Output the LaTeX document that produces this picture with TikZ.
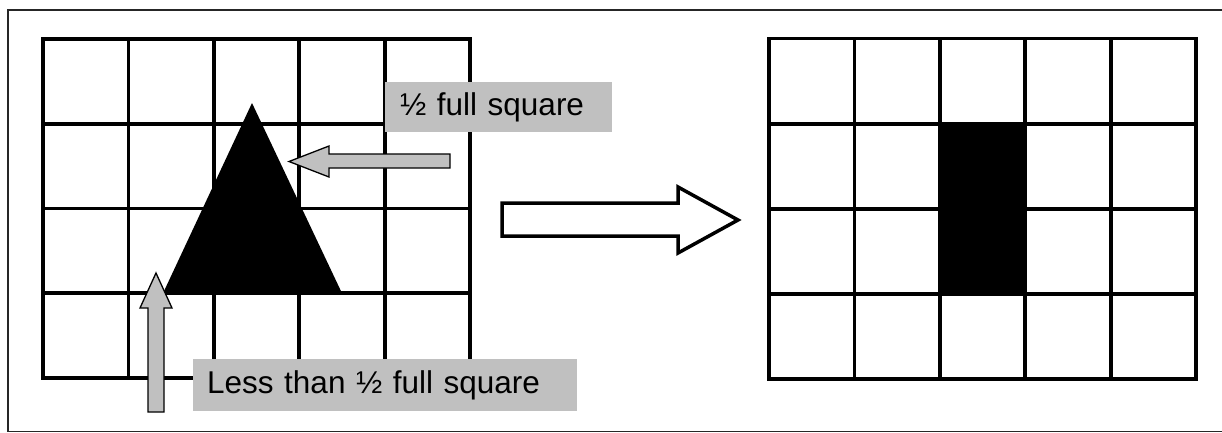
\documentclass[tikz,border=0pt]{standalone}
\usepackage{fontspec}
\setmainfont{Liberation Sans}
\definecolor{labelgray}{RGB}{192,192,192}
\begin{document}
\begin{tikzpicture}[x=1pt,y=-1pt,
  gridline/.style={line width=3.8pt, line cap=rect},
  pointer/.style={fill=labelgray, draw=black, line width=1.3pt, line join=miter},
  labelbox/.style={fill=labelgray, anchor=north west, align=left, inner ysep=0pt,
    font=\fontsize{31.5pt}{38pt}\selectfont},
  bigarrow/.style={fill=white, draw=black, line width=3.5pt, line join=miter}]
\useasboundingbox (0,0) rectangle (1222,432);
% outer frame (right side runs off the page)
\draw[line width=1.6pt, black!85] (8,10) rectangle (1240,431.5);

% left grid: 5 columns x 4 rows
\foreach \x in {43,128.4,213.8,299.2,384.6,470}
  \draw[gridline] (\x,39) -- (\x,378);
\foreach \y in {39,123.75,208.5,293.25,378}
  \draw[gridline] (43,\y) -- (470,\y);

% triangle over the grid
\fill[black] (163,293.25) -- (342,293.25) -- (252,103) -- cycle;

% right grid: 5 columns x 4 rows
\foreach \x in {769,854.4,939.8,1025.2,1110.6,1196}
  \draw[gridline] (\x,38.5) -- (\x,379);
\foreach \y in {38.5,123.6,208.75,293.9,379}
  \draw[gridline] (769,\y) -- (1196,\y);
\fill[black] (939.8,123.6) rectangle (1025.2,293.9);

% conversion arrow
\draw[bigarrow] (502,203) -- (678,203) -- (678,187) -- (738,220)
  -- (678,253) -- (678,236) -- (502,236) -- cycle;

% labels
\node[labelbox, minimum width=227pt, minimum height=50pt, text width=197pt,
  inner xsep=15pt] (half) at (385,82) {½ full square};
\node[labelbox, minimum width=384pt, minimum height=52pt, text width=356pt,
  inner xsep=14pt] (less) at (193,359) {Less than ½ full square};

% pointers
\coordinate (halftip) at (289,161.5);
\coordinate (lesstip) at (156,273);
\draw[pointer] (halftip) -- (329,146) -- (329,154) -- (450,154) -- (450,168)
  -- (329,168) -- (329,177) -- cycle;
\draw[pointer] (lesstip) -- (172,308) -- (164,308) -- (164,412) -- (148,412)
  -- (148,308) -- (140,308) -- cycle;
\end{tikzpicture}
\end{document}
